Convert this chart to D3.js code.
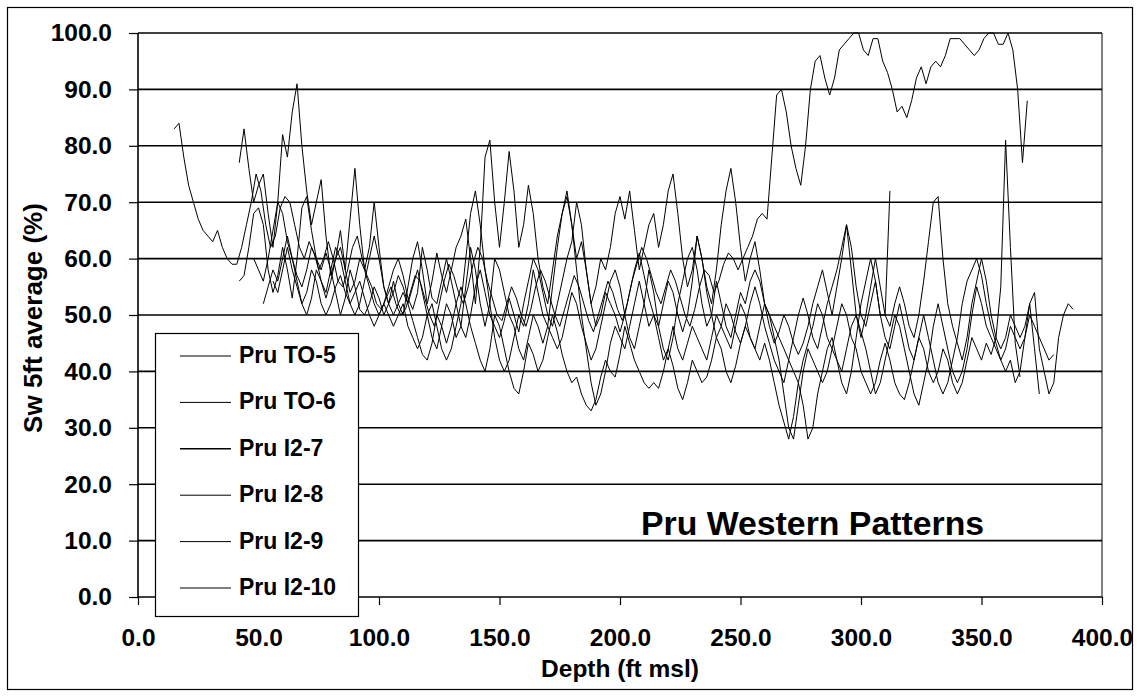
<!DOCTYPE html>
<html>
<head>
<meta charset="utf-8">
<script src="https://cdn.jsdelivr.net/npm/d3@7"></script>
<style>
  html, body { margin: 0; padding: 0; background: #fff; }
  svg { display: block; }
  text { font-family: "Liberation Sans", Arial, Helvetica, sans-serif; font-weight: bold; fill: #000; }
</style>
</head>
<body>
<svg id="chart" width="1137" height="696"></svg>
<script>
// Sw 5 ft running average vs depth, six wells, sampled every 2 ft
const seriesNames = ["Pru TO-5", "Pru TO-6", "Pru I2-7", "Pru I2-8", "Pru I2-9", "Pru I2-10"];
const sampleStep = 2;
const startDepths = [15, 42, 42, 48, 52, 56];

const swTO5 = [83,84,78,73,70,67,65,64,63,65,62,60,59,59,
  62,66,70,75,72,66,62,64,69,71,70,66,62,60,63,61,58,60,63,60,56,55,58,62,64,60,57,55,52,51,
  53,55,52,50,51,54,57,56,53,50,48,52,56,59,57,54,52,55,59,62,60,56,53,50,49,52,55,53,50,48,
  51,55,58,56,53,50,48,51,54,57,55,52,49,47,50,53,56,54,51,49,52,56,59,62,60,57,54,52,55,58,
  56,53,50,48,51,55,58,57,54,56,59,61,60,58,60,62,64,67,68,67,78,89,90,86,80,76,73,80,90,95,
  96,92,89,92,97,98,99,100,100,97,96,99,99,95,93,90,86,87,85,88,92,94,91,94,95,94,96,99,99,99,
  98,97,96,97,99,100,100,98,98,100,97,90,77,88];

const swTO6 = [77,83,76,70,73,75,68,62,70,82,78,86,91,80,72,66,70,74,64,57,60,65,58,67,76,66,58,62,70,62,
  55,52,56,52,50,55,60,63,58,52,56,61,57,54,58,62,64,67,60,52,62,78,81,70,62,70,79,72,62,66,
  73,68,60,55,52,58,64,68,72,66,60,63,58,52,55,60,58,62,68,71,67,72,65,58,62,66,68,62,66,72,
  75,68,60,55,58,64,60,55,52,58,66,72,76,70,62,56,60,63,58,52,48,45,47,50,48,45,43,45,48,52,
  55,58,54,50,55,60,66,62,55,50,48,52,56,50,50,72];

const swI27 = [56,57,62,68,69,66,58,54,57,62,58,53,60,69,71,65,60,58,61,58,54,50,53,58,55,51,50,52,55,53,
  50,52,54,57,55,52,49,46,43,42,45,50,48,45,48,52,55,52,48,45,42,40,44,50,48,44,40,37,36,40,
  45,43,40,42,46,50,47,43,40,38,39,36,34,33,35,39,42,40,39,43,48,45,42,40,38,37,38,37,40,44,
  41,37,35,38,42,40,38,39,42,46,44,40,38,41,45,48,46,44,42,45,42,38,34,31,28,32,38,42,45,48,
  52,50,46,44,48,52,50,46,44,40,38,36,38,42,45,42,38,36,35,38,42,46,44,40,38,40,44,42,38,36,
  38,42,46,44,42,45,43,46,55,81,62,45,39];

const swI28 = [60,58,56,60,65,70,68,63,60,57,55,58,62,60,56,53,56,60,62,58,54,56,60,58,55,52,50,52,55,58,
  60,57,53,51,54,62,58,53,52,56,60,56,52,48,46,50,55,58,54,50,48,46,49,53,50,47,52,56,60,58,
  54,50,48,52,56,60,63,70,66,58,52,48,50,54,52,50,47,50,54,58,61,57,53,50,48,52,56,54,50,47,
  50,56,64,60,54,50,46,48,52,50,47,45,48,52,55,52,48,45,42,40,38,42,46,50,53,50,46,44,48,52,
  55,58,62,66,58,50,46,50,55,60,55,50,48,52,55,52,48,46,50,56,63,70,71,60,52,48,45,42,46,52,
  56,60,56,50,46,44,46,50,48,46,48,52,54,44,40,36,38,46,50,52,51];

const swI29 = [52,55,58,56,60,64,60,56,52,50,53,58,56,54,58,62,60,56,52,50,52,56,60,64,60,55,52,50,52,54,
  52,55,58,54,50,46,44,48,52,50,46,48,55,62,58,52,48,52,60,58,54,50,48,44,42,46,50,48,45,48,
  55,62,68,71,66,58,50,44,38,34,36,40,45,48,46,44,48,52,56,52,48,50,46,42,44,48,44,42,45,48,
  46,44,42,46,50,48,46,44,48,52,50,46,44,48,52,50,46,42,36,30,28,34,40,44,42,40,38,40,44,42,
  38,36,40,46,52,56,60,56,50,46,44,48,52,48,44,42,46,50,46,42,38,36,38,42,46,52,56,58,60,57,
  52,48,45,42,44,48,46,44,46,50,48,46,44,42,43];

const swI210 = [56,54,58,62,58,55,52,54,58,56,52,50,52,55,57,54,52,54,56,53,50,48,50,52,50,48,50,52,48,46,
  44,46,50,52,48,44,42,44,48,52,60,68,72,66,58,52,46,42,40,42,46,50,48,52,58,54,50,48,46,44,
  46,50,54,52,48,45,42,44,48,52,56,58,55,50,46,44,48,52,58,54,48,44,42,46,52,56,60,62,58,52,
  48,50,56,52,48,46,50,54,52,56,58,56,52,50,48,46,44,42,40,38,34,28,30,36,40,44,46,42,40,44,
  48,50,47,44,40,36,38,42,46,50,48,44,40,36,34,38,42,48,52,48,44,40,38,40,44,50,55,52,48,46,
  44,42,40,42,38,40,46,52,44,36];

const seriesValues = [swTO5, swTO6, swI27, swI28, swI29, swI210];

const xTicks = [0, 50, 100, 150, 200, 250, 300, 350, 400];
const yTicks = [0, 10, 20, 30, 40, 50, 60, 70, 80, 90, 100];

const svg = d3.select("#chart");
const plot = { left: 138, right: 1102, top: 33, bottom: 597 };

const x = d3.scaleLinear().domain([0, 400]).range([plot.left, plot.right]);
const y = d3.scaleLinear().domain([0, 100]).range([plot.bottom, plot.top]);

// outer frame
svg.append("rect")
  .attr("x", 7.5).attr("y", 7.5).attr("width", 1125).attr("height", 682)
  .attr("fill", "#fff").attr("stroke", "#000").attr("stroke-width", 1.2);

// horizontal gridlines
svg.append("g")
  .selectAll("line")
  .data(yTicks.filter(d => d > 0))
  .join("line")
  .attr("x1", plot.left).attr("x2", plot.right)
  .attr("y1", d => y(d)).attr("y2", d => y(d))
  .attr("stroke", "#000").attr("stroke-width", 1.6);

// right border of plot area
svg.append("line")
  .attr("x1", plot.right).attr("x2", plot.right)
  .attr("y1", plot.top).attr("y2", plot.bottom)
  .attr("stroke", "#000").attr("stroke-width", 1);

// series traces
const line = d3.line()
  .x(d => x(d.depth))
  .y(d => y(d.sw));

const traces = seriesValues.map((vals, k) =>
  vals.map((v, i) => ({ depth: startDepths[k] + i * sampleStep, sw: v })));

svg.append("g")
  .selectAll("path")
  .data(traces)
  .join("path")
  .attr("d", line)
  .attr("fill", "none")
  .attr("stroke", "#000")
  .attr("stroke-width", 1)
  .attr("stroke-linejoin", "round");

// axes
const yAxis = d3.axisLeft(y).tickValues(yTicks).tickFormat(d3.format(".1f")).tickSize(9).tickPadding(17);
const xAxis = d3.axisBottom(x).tickValues(xTicks).tickFormat(d3.format(".1f")).tickSize(8).tickPadding(24);

const gy = svg.append("g").attr("transform", `translate(${plot.left},0)`).call(yAxis);
const gx = svg.append("g").attr("transform", `translate(0,${plot.bottom})`).call(xAxis);

[gy, gx].forEach(g => {
  g.select(".domain").attr("stroke", "#000").attr("stroke-width", 1.6);
  g.selectAll(".tick line").attr("stroke", "#000").attr("stroke-width", 1.2);
  g.selectAll(".tick text")
    .attr("font-family", "'Liberation Sans', Arial, sans-serif")
    .attr("font-weight", "bold")
    .attr("font-size", 24.5)
    .attr("fill", "#000");
});
gy.select(".domain").attr("d", `M0,${plot.top}V${plot.bottom}`);
gx.select(".domain").attr("d", `M${plot.left},0H${plot.right}`);

// axis titles
svg.append("text")
  .attr("x", 620).attr("y", 677)
  .attr("text-anchor", "middle")
  .attr("font-size", 24.5)
  .text("Depth (ft msl)");

svg.append("text")
  .attr("transform", "translate(42,318) rotate(-90)")
  .attr("text-anchor", "middle")
  .attr("font-size", 26)
  .text("Sw 5ft average (%)");

// chart label
svg.append("text")
  .attr("x", 641).attr("y", 535)
  .attr("font-size", 33.8)
  .text("Pru Western Patterns");

// legend
const legend = svg.append("g");
legend.append("rect")
  .attr("x", 155.5).attr("y", 333.5).attr("width", 203).attr("height", 283)
  .attr("fill", "#fff").attr("stroke", "#000").attr("stroke-width", 1.2);

const legendRow = d3.scalePoint().domain(seriesNames).range([356, 588]);

const items = legend.selectAll("g.item")
  .data(seriesNames)
  .join("g")
  .attr("class", "item")
  .attr("transform", d => `translate(0,${legendRow(d)})`);

items.append("line")
  .attr("x1", 180).attr("x2", 231)
  .attr("y1", 0).attr("y2", 0)
  .attr("stroke", "#000").attr("stroke-width", (d, i) => i === 2 ? 1.6 : 1);

items.append("text")
  .attr("x", 239).attr("y", 7)
  .attr("font-size", 23)
  .text(d => d);
</script>
</body>
</html>
